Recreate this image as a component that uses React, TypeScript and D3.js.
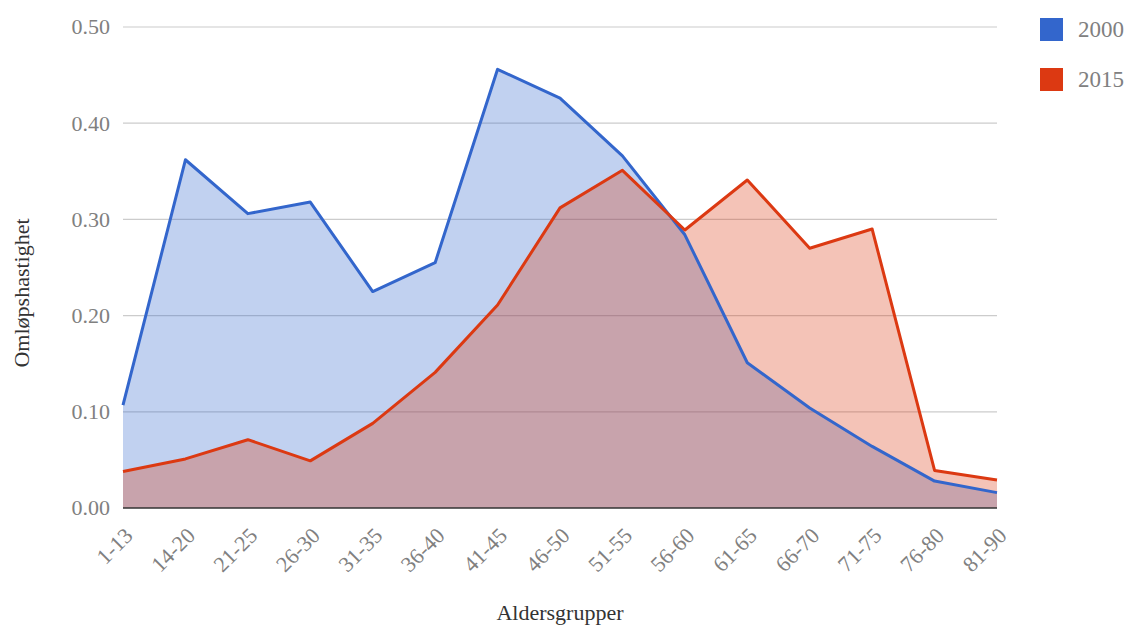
import * as d3 from "d3";

const categories = [
  "1-13", "14-20", "21-25", "26-30", "31-35", "36-40", "41-45", "46-50",
  "51-55", "56-60", "61-65", "66-70", "71-75", "76-80", "81-90",
];
const values2000 = [
  0.107, 0.362, 0.306, 0.318, 0.225, 0.255, 0.456, 0.426,
  0.366, 0.284, 0.151, 0.104, 0.064, 0.028, 0.016,
];
const values2015 = [
  0.038, 0.051, 0.071, 0.049, 0.088, 0.141, 0.211, 0.312,
  0.351, 0.289, 0.341, 0.270, 0.290, 0.039, 0.029,
];
const yTicks = [0, 0.1, 0.2, 0.3, 0.4, 0.5];

const series = [
  { name: "2000", values: values2000, color: "#3366cc" },
  { name: "2015", values: values2015, color: "#dc3912" },
];

const W = 1137;
const H = 628;
const left = 123;
const right = 997;
const top = 27;
const bottom = 508;
const font = "'Liberation Serif', 'Times New Roman', serif";

export default function App() {
  const x = d3.scalePoint<string>().domain(categories).range([left, right]);
  const y = d3.scaleLinear().domain([0, 0.5]).range([bottom, top]);

  const area = d3
    .area<number>()
    .x((_, i) => x(categories[i]) as number)
    .y0(y(0))
    .y1((d) => y(d));
  const line = d3
    .line<number>()
    .x((_, i) => x(categories[i]) as number)
    .y((d) => y(d));

  return (
    <div>
      <style>{`body{margin:0}`}</style>
      <svg width={W} height={H} style={{ display: "block", background: "#fff" }} fontFamily={font}>
        {yTicks.map((t) => (
          <g key={t}>
            {t > 0 && (
              <line x1={left} x2={right} y1={y(t)} y2={y(t)} stroke="#cccccc" strokeWidth={1.2} />
            )}
            <text x={110} y={y(t)} dy="0.34em" textAnchor="end" fontSize={22} fill="#808080">
              {t.toFixed(2)}
            </text>
          </g>
        ))}

        {series.map((s) => (
          <path key={s.name} d={area(s.values) || ""} fill={s.color} fillOpacity={0.3} />
        ))}
        {series.map((s) => (
          <path
            key={s.name}
            d={line(s.values) || ""}
            fill="none"
            stroke={s.color}
            strokeWidth={3}
            strokeLinejoin="round"
          />
        ))}

        <line x1={left} x2={right} y1={y(0)} y2={y(0)} stroke="#333" strokeWidth={1.6} />

        {categories.map((c) => (
          <text
            key={c}
            transform={`translate(${(x(c) as number) + 11},537) rotate(-45)`}
            textAnchor="end"
            fontSize={22}
            fill="#808080"
          >
            {c}
          </text>
        ))}

        <text x={560} y={620} textAnchor="middle" fontSize={22} fill="#333">
          Aldersgrupper
        </text>
        <text
          transform="translate(29,293) rotate(-90)"
          textAnchor="middle"
          fontSize={22}
          fill="#333"
        >
          Omløpshastighet
        </text>

        {series.map((s, i) => (
          <g key={s.name} transform={`translate(1040,${18 + i * 50})`}>
            <rect width={23} height={23} fill={s.color} />
            <text x={38} y={19} fontSize={23} fill="#808080">
              {s.name}
            </text>
          </g>
        ))}
      </svg>
    </div>
  );
}
